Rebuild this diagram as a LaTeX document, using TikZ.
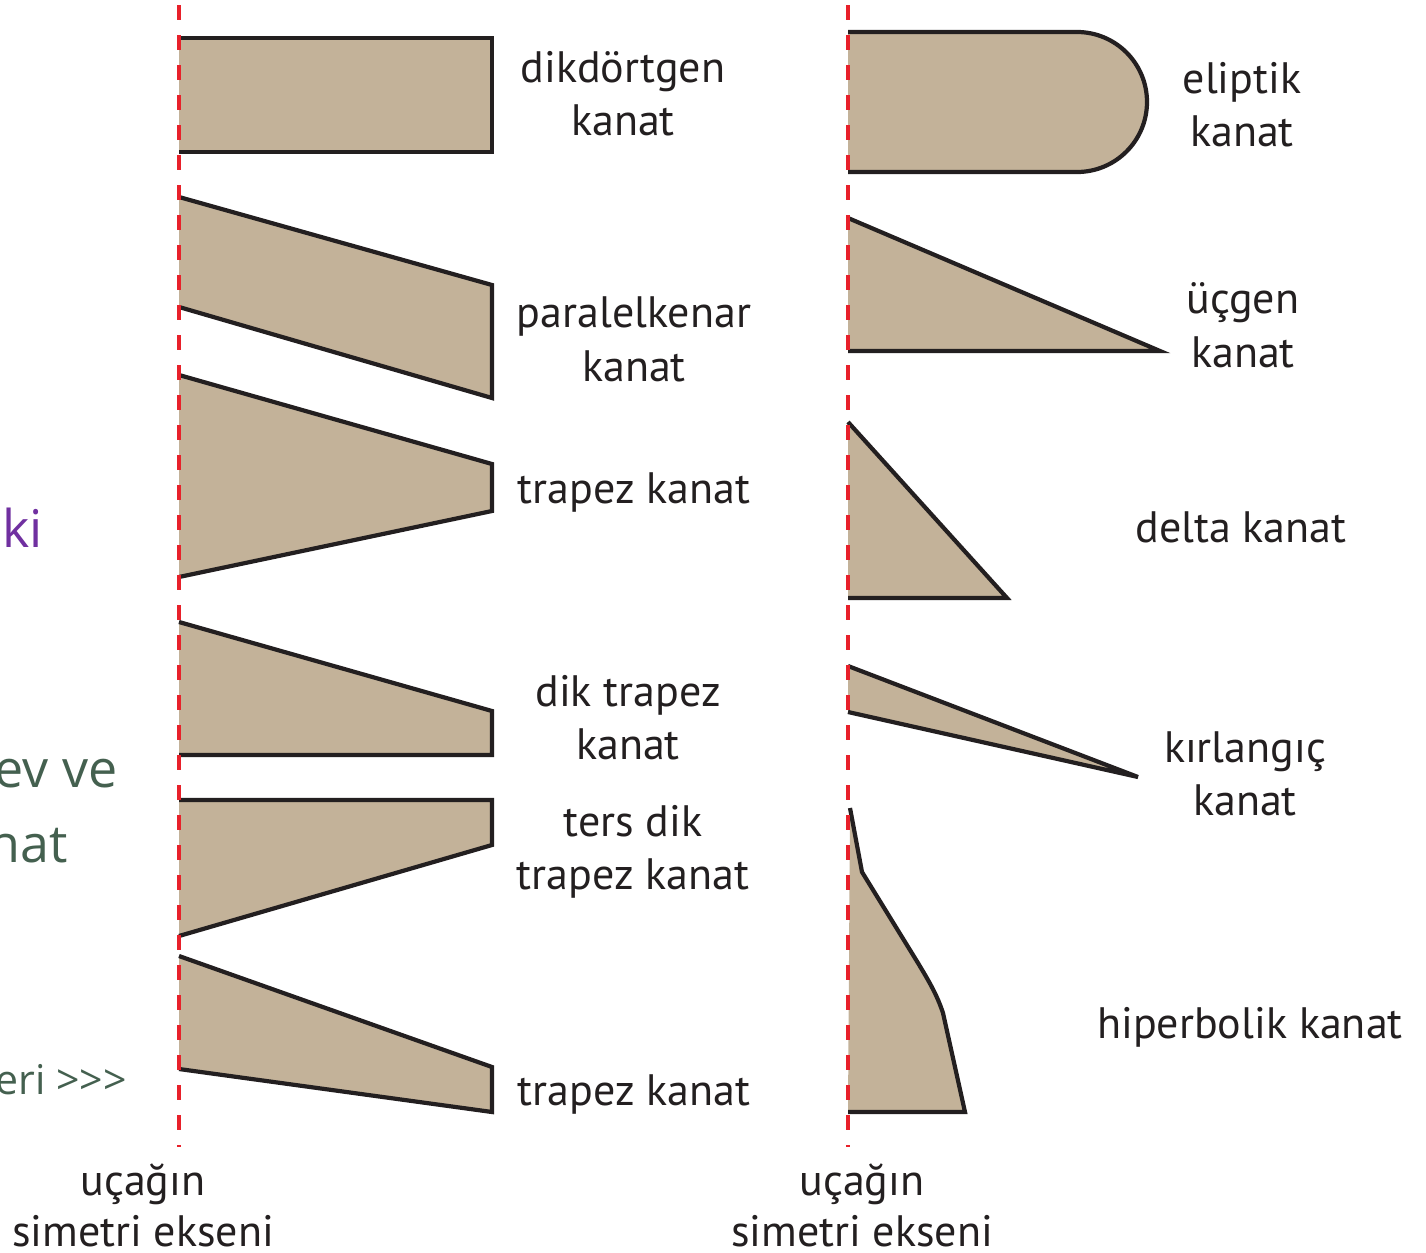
\documentclass[tikz,border=0pt]{standalone}
\usepackage{fontspec}
\setmainfont{PT Sans}
\newfontfamily\sidefont{Open Sans}
\definecolor{wingfill}{HTML}{C3B299}
\definecolor{wingline}{HTML}{231F20}
\definecolor{axisred}{HTML}{E8202A}
\definecolor{sidepurple}{HTML}{7030A0}
\definecolor{sidegreen}{HTML}{44604F}
\begin{document}
\begin{tikzpicture}[x=0.5pt,y=-0.5pt,
  wingfillst/.style={fill=wingfill,draw=none},
  wingedge/.style={draw=wingline,line width=2.1pt,line join=miter},
  axisline/.style={draw=axisred,line width=2pt,dash pattern=on 7.5pt off 7.5pt},
  lbl/.style={font=\fontsize{22pt}{26.5pt}\selectfont,text=wingline,anchor=base,inner sep=0pt},
  side/.style={anchor=base east,inner sep=0pt}]
\useasboundingbox (0,0) rectangle (1426,1253);
% ---- left column wings ----
\fill[wingfillst] (179,38) -- (492,38) -- (492,152) -- (179,152) -- cycle;
\draw[wingedge] (179,38) -- (492,38) -- (492,152) -- (179,152);
\fill[wingfillst] (179,197) -- (492,285) -- (492,398) -- (179,307) -- cycle;
\draw[wingedge] (179,197) -- (492,285) -- (492,398) -- (179,307);
\fill[wingfillst] (179,375) -- (492,464) -- (492,511) -- (179,577) -- cycle;
\draw[wingedge] (179,375) -- (492,464) -- (492,511) -- (179,577);
\fill[wingfillst] (179,622) -- (492,711) -- (492,755) -- (179,755) -- cycle;
\draw[wingedge] (179,622) -- (492,711) -- (492,755) -- (179,755);
\fill[wingfillst] (179,800) -- (492,800) -- (492,845) -- (179,936) -- cycle;
\draw[wingedge] (179,800) -- (492,800) -- (492,845) -- (179,936);
\fill[wingfillst] (179,956) -- (492,1067) -- (492,1112) -- (179,1069) -- cycle;
\draw[wingedge] (179,956) -- (492,1067) -- (492,1112) -- (179,1069);
% ---- right column wings ----
\fill[wingfillst] (848,32) -- (1077,32) arc[start angle=90,end angle=-90,radius=35pt] -- (848,172) -- cycle;
\draw[wingedge] (848,32) -- (1077,32) arc[start angle=90,end angle=-90,radius=35pt] -- (848,172);
\fill[wingfillst] (848,218) -- (1160,351) -- (848,351) -- cycle;
\draw[wingedge] (848,218) -- (1160,351) -- (848,351);
\fill[wingfillst] (848,422) -- (1007,598) -- (848,598) -- cycle;
\draw[wingedge] (848,422) -- (1007,598) -- (848,598);
\fill[wingfillst] (848,666) -- (1138,777) -- (848,712) -- cycle;
\draw[wingedge] (848,666) -- (1138,777) -- (848,712);
\fill[wingfillst] (850,808) -- (862,872) -- (918,963) .. controls (930,983) and (937,995) .. (943,1013) -- (965,1112) -- (848,1112) -- cycle;
\draw[wingedge] (850,808) -- (862,872) -- (918,963) .. controls (930,983) and (937,995) .. (943,1013) -- (965,1112) -- (848,1112);
% ---- symmetry axes ----
\coordinate (axLtop) at (179,5);
\coordinate (axLbot) at (179,1147);
\coordinate (axRtop) at (848,5);
\coordinate (axRbot) at (848,1147);
\draw[axisline] (axLtop) -- (axLbot);
\draw[axisline] (axRtop) -- (axRbot);
% ---- labels ----
\node[lbl] (l1a) at (623,82) {dikdörtgen};
\node[lbl] (l1b) at (623,135) {kanat};
\node[lbl] (l2a) at (634,327) {paralelkenar};
\node[lbl] (l2b) at (634,381) {kanat};
\node[lbl] (l3) at (634,503) {trapez kanat};
\node[lbl] (l4a) at (628,706) {dik trapez};
\node[lbl] (l4b) at (628,759) {kanat};
\node[lbl] (l5a) at (633,836) {ters dik};
\node[lbl] (l5b) at (633,889) {trapez kanat};
\node[lbl] (l6) at (634,1105) {trapez kanat};
\node[lbl] (r1a) at (1242,93) {eliptik};
\node[lbl] (r1b) at (1242,146) {kanat};
\node[lbl] (r2a) at (1243,313) {üçgen};
\node[lbl] (r2b) at (1243,367) {kanat};
\node[lbl] (r3) at (1241,542) {delta kanat};
\node[lbl] (r4a) at (1245,762) {kırlangıç};
\node[lbl] (r4b) at (1245,815) {kanat};
\node[lbl] (r5) at (1250,1038) {hiperbolik kanat};
\node[lbl] (axLa) at (143,1195) {uçağın};
\node[lbl] (axLb) at (143,1246) {simetri ekseni};
\node[lbl] (axRa) at (862,1195) {uçağın};
\node[lbl] (axRb) at (862,1246) {simetri ekseni};
% ---- cut-off side text ----
\node[side,font=\sidefont\fontsize{26pt}{30pt}\selectfont,text=sidepurple] (s1) at (43,547) {ki};
\node[side,font=\sidefont\fontsize{26pt}{30pt}\selectfont,text=sidegreen] (s2) at (118,787) {ev ve};
\node[side,font=\sidefont\fontsize{26pt}{30pt}\selectfont,text=sidegreen] (s3) at (68,862) {nat};
\node[side,font=\sidefont\fontsize{20.5pt}{24pt}\selectfont,text=sidegreen] (s4) at (127,1094) {eri >>>};
\end{tikzpicture}
\end{document}
